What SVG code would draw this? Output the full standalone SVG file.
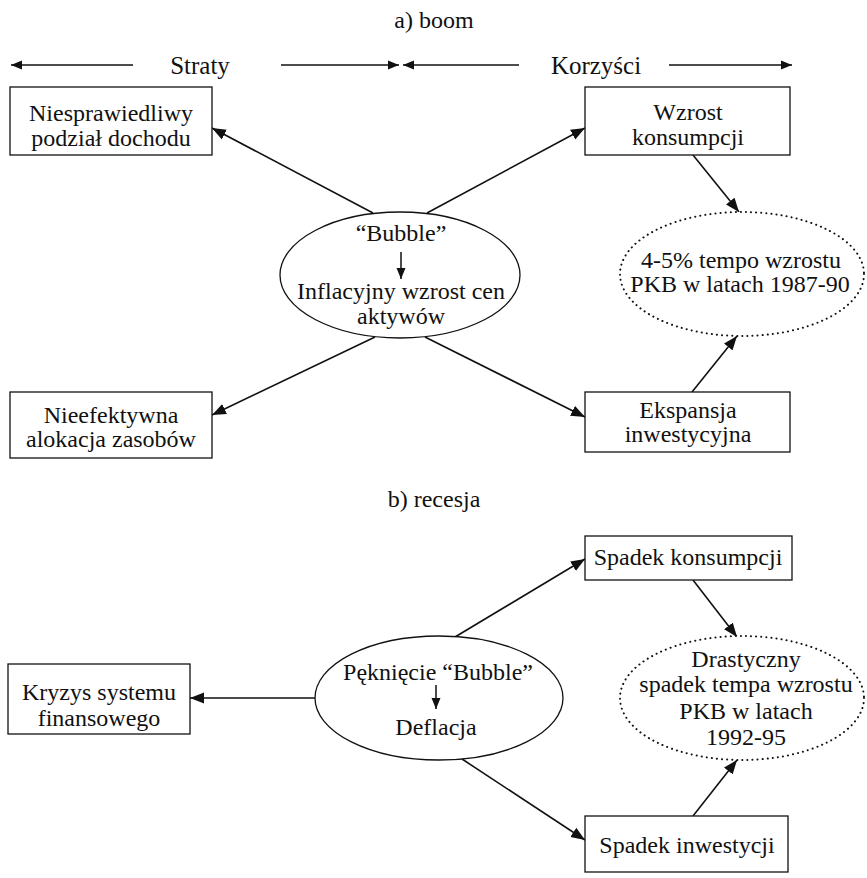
<svg xmlns="http://www.w3.org/2000/svg" width="867" height="878" viewBox="0 0 867 878">
<defs>
<style>
text{font-family:"Liberation Serif","Times New Roman",serif;font-size:24px;fill:#111;text-anchor:middle}
.hd{font-size:25px}
.box{fill:#fff;stroke:#111;stroke-width:1.3}
.ell{fill:#fff;stroke:#111;stroke-width:1.3}
.dot{fill:#fff;stroke:#111;stroke-width:2;stroke-dasharray:0.1 5;stroke-linecap:round}
.cn line{stroke:#111;stroke-width:1.6;marker-end:url(#ah)}
.hdr line{stroke:#111;stroke-width:1.3;marker-end:url(#hh)}
.sm{stroke:#111;stroke-width:1.5;marker-end:url(#sa)}
</style>
<marker id="ah" markerUnits="userSpaceOnUse" markerWidth="15" markerHeight="12" refX="14" refY="6" orient="auto"><path d="M0,0.5 L14,6 L0,11.5 z" fill="#111"/></marker>
<marker id="hh" markerUnits="userSpaceOnUse" markerWidth="12" markerHeight="10" refX="11" refY="5" orient="auto"><path d="M0,0.5 L11,5 L0,9.5 z" fill="#111"/></marker>
<marker id="sa" markerUnits="userSpaceOnUse" markerWidth="12" markerHeight="10" refX="11" refY="5" orient="auto"><path d="M0,0.5 L11,5 L0,9.5 z" fill="#111"/></marker>
</defs>
<rect width="867" height="878" fill="#fff"/>
<text x="434" y="28">a) boom</text>
<g id="header" class="hdr">
<line x1="133" y1="65" x2="11" y2="65"/>
<line x1="281" y1="65" x2="399" y2="65"/>
<line x1="519" y1="65" x2="403" y2="65"/>
<line x1="669" y1="65" x2="792" y2="65"/>
<text class="hd" x="200" y="74">Straty</text>
<text class="hd" x="596" y="74">Korzyści</text>
</g>
<g id="connectors" class="cn">
<line x1="373" y1="213" x2="212" y2="128"/>
<line x1="427" y1="213" x2="585" y2="128"/>
<line x1="693" y1="155" x2="739" y2="212"/>
<line x1="692" y1="392" x2="737" y2="336"/>
<line x1="375" y1="337" x2="212" y2="415"/>
<line x1="425" y1="337" x2="585" y2="417"/>
<line x1="455" y1="637" x2="585" y2="559"/>
<line x1="693" y1="580" x2="737" y2="637"/>
<line x1="315" y1="698" x2="190" y2="698"/>
<line x1="462" y1="759" x2="585" y2="840"/>
<line x1="693" y1="816" x2="737" y2="760"/>
</g>
<g id="n-niesprawiedliwy"><rect class="box" x="10" y="87" width="202" height="68"/><text x="111" y="121">Niesprawiedliwy</text><text x="111" y="146">podział dochodu</text></g>
<g id="n-wzrost"><rect class="box" x="585" y="87" width="205" height="68"/><text x="688" y="120">Wzrost</text><text x="688" y="145">konsumpcji</text></g>
<g id="n-bubble"><ellipse class="ell" cx="400" cy="275" rx="120" ry="63"/><text x="401" y="241">“Bubble”</text><line class="sm" x1="401" y1="252" x2="401" y2="279"/><text x="401" y="299">Inflacyjny wzrost cen</text><text x="401" y="324">aktywów</text></g>
<g id="n-pkb-a"><ellipse class="dot" cx="742" cy="274" rx="122" ry="62"/><text x="741" y="268">4-5% tempo wzrostu</text><text x="740" y="292">PKB w latach 1987-90</text></g>
<g id="n-nieefektywna"><rect class="box" x="10" y="392" width="202" height="66"/><text x="111" y="423">Nieefektywna</text><text x="111" y="447">alokacja zasobów</text></g>
<g id="n-ekspansja"><rect class="box" x="585" y="392" width="205" height="60"/><text x="688" y="418">Ekspansja</text><text x="688" y="442">inwestycyjna</text></g>
<text x="434" y="507">b) recesja</text>
<g id="n-spadek-k"><rect class="box" x="585" y="536" width="207" height="44"/><text x="688" y="565">Spadek konsumpcji</text></g>
<g id="n-pekniecie"><ellipse class="ell" cx="439" cy="698" rx="124" ry="62"/><text x="438" y="680">Pęknięcie “Bubble”</text><line class="sm" x1="436" y1="685" x2="436" y2="709"/><text x="436" y="735">Deflacja</text></g>
<g id="n-pkb-b"><ellipse class="dot" cx="742" cy="698" rx="122" ry="62"/><text x="746" y="667">Drastyczny</text><text x="746" y="692">spadek tempa wzrostu</text><text x="746" y="719">PKB w latach</text><text x="746" y="745">1992-95</text></g>
<g id="n-kryzys"><rect class="box" x="8" y="664" width="182" height="70"/><text x="99" y="700">Kryzys systemu</text><text x="99" y="726">finansowego</text></g>
<g id="n-spadek-i"><rect class="box" x="585" y="816" width="203" height="56"/><text x="687" y="853">Spadek inwestycji</text></g>
</svg>
